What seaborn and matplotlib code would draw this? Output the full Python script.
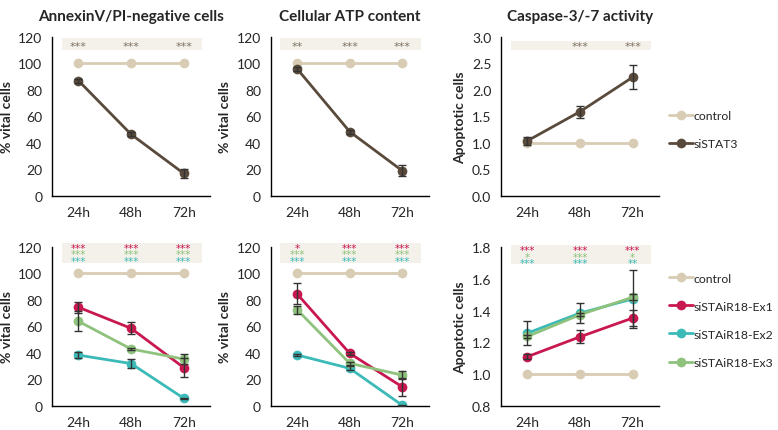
import numpy as np
import pandas as pd
import matplotlib
matplotlib.use("Agg")
import matplotlib.pyplot as plt
from matplotlib.lines import Line2D
import seaborn as sns

# --- data ---
times = ["24h", "48h", "72h"]

# top row: control vs siSTAT3
ann_ctrl = [100, 100, 100]
ann_stat3 = [87, 46.5, 17]
ann_stat3_err = [1.5, 1.5, 3.5]
atp_ctrl = [100, 100, 100]
atp_stat3 = [96, 48.5, 19]
atp_stat3_err = [1.5, 1.5, 4]
casp_ctrl = [1.0, 1.0, 1.0]
casp_stat3 = [1.04, 1.59, 2.24]
casp_stat3_err = [0.07, 0.11, 0.23]

# bottom row: control vs siSTAiR18 exons
ann2_ctrl = [100, 100, 100]
ann2_ex1 = [74.5, 58.6, 29]
ann2_ex1_err = [4, 4.5, 7]
ann2_ex2 = [38.4, 32, 5.8]
ann2_ex2_err = [2.5, 3.5, 0.5]
ann2_ex3 = [63.9, 43, 35.4]
ann2_ex3_err = [7.5, 1, 4]

atp2_ctrl = [100, 100, 100]
atp2_ex1 = [84.6, 39.7, 14.4]
atp2_ex1_err = [8, 1, 6.5]
atp2_ex2 = [38.5, 28.4, 0.5]
atp2_ex2_err = [1, 1.5, 0.5]
atp2_ex3 = [72.7, 32.2, 23.3]
atp2_ex3_err = [3, 1, 3]

casp2_ctrl = [1.0, 1.0, 1.0]
casp2_ex1 = [1.11, 1.235, 1.353]
casp2_ex1_err = [0.015, 0.04, 0.05]
casp2_ex2 = [1.258, 1.384, 1.473]
casp2_ex2_err = [0.075, 0.065, 0.18]
casp2_ex3 = [1.237, 1.374, 1.484]
casp2_ex3_err = [0.01, 0.01, 0.02]

# significance stars
stars_top = {
    "ann": ["***", "***", "***"],
    "atp": ["**", "***", "***"],
    "casp": ["", "***", "***"],
}
stars_ann2 = {"ex1": ["***", "***", "***"], "ex3": ["***", "***", "***"], "ex2": ["***", "***", "***"]}
stars_atp2 = {"ex1": ["*", "***", "***"], "ex3": ["***", "***", "***"], "ex2": ["***", "***", "***"]}
stars_casp2 = {"ex1": ["***", "***", "***"], "ex3": ["*", "***", "*"], "ex2": ["***", "***", "**"]}

C_CTRL = "#d8cdb4"
C_STAT3 = "#5a4a3c"
C_EX1 = "#c9184f"
C_EX2 = "#3bbab8"
C_EX3 = "#8fc27c"
C_STAR = "#7d7264"
C_BAND = "#f4f1ea"

sns.set_style("white")
plt.rcParams["font.family"] = ["Lato", "DejaVu Sans"]

fig = plt.figure(figsize=(7.78, 4.31), dpi=100)

W = 0.203
H = 0.369
lefts = [0.067, 0.348, 0.644]
top_bottom = 0.543
bot_bottom = 0.0557


def draw_panel(ax, series, ylim, yticks, yfmt, ylabel):
    rows = []
    for name, vals, err, color in series:
        for i, v in enumerate(vals):
            rows.append({"time": i, "value": v, "group": name})
    df = pd.DataFrame(rows)
    palette = {s[0]: s[3] for s in series}
    sns.lineplot(data=df, x="time", y="value", hue="group", palette=palette,
                 hue_order=[s[0] for s in series], marker="o", markersize=7,
                 markeredgewidth=0, linewidth=2, ax=ax, legend=False)
    for name, vals, err, color in series:
        if err is not None:
            ax.errorbar(range(3), vals, yerr=err, fmt="none", ecolor="#333333",
                        elinewidth=1, capsize=3, capthick=1, zorder=5)
    ax.set_xlim(-0.5, 2.5)
    ax.set_ylim(*ylim)
    ax.set_yticks(yticks)
    ax.set_yticklabels([yfmt.format(v) for v in yticks], fontsize=10)
    ax.set_xticks([-0.5, 0.5, 1.5, 2.5])
    ax.set_xticklabels([])
    ax.set_xticks([0, 1, 2], minor=True)
    ax.set_xticklabels(times, minor=True, fontsize=10)
    ax.tick_params(axis="x", which="minor", length=0, pad=7)
    ax.tick_params(axis="x", which="major", direction="out", length=4, width=1, color="black")
    ax.tick_params(axis="y", direction="out", length=4, width=1, color="black", pad=3)
    ax.set_xlabel("")
    ax.set_ylabel(ylabel, fontsize=10, fontweight="bold", labelpad=4)
    for side in ["top", "right"]:
        ax.spines[side].set_visible(False)
    for side in ["left", "bottom"]:
        ax.spines[side].set_color("black")
        ax.spines[side].set_linewidth(1)


def star_band(ax, y0, y1, x0=-0.32, x1=2.35):
    ax.fill_between([x0, x1], y0, y1, color=C_BAND, zorder=0, clip_on=False, linewidth=0)


# --- top row ---
ax1 = fig.add_axes([lefts[0], top_bottom, W, H])
draw_panel(ax1, [("control", ann_ctrl, None, C_CTRL), ("siSTAT3", ann_stat3, ann_stat3_err, C_STAT3)],
           (0, 120), [0, 20, 40, 60, 80, 100, 120], "{:.0f}", "% vital cells")
ax2 = fig.add_axes([lefts[1], top_bottom, W, H])
draw_panel(ax2, [("control", atp_ctrl, None, C_CTRL), ("siSTAT3", atp_stat3, atp_stat3_err, C_STAT3)],
           (0, 120), [0, 20, 40, 60, 80, 100, 120], "{:.0f}", "% vital cells")
ax3 = fig.add_axes([lefts[2], top_bottom, W, H])
draw_panel(ax3, [("control", casp_ctrl, None, C_CTRL), ("siSTAT3", casp_stat3, casp_stat3_err, C_STAT3)],
           (0, 3.0), [0, 0.5, 1.0, 1.5, 2.0, 2.5, 3.0], "{:.1f}", "Apoptotic cells")

for ax, key, (b0, b1, ys) in [(ax1, "ann", (110, 119, 113.5)), (ax2, "atp", (110, 119, 113.5)),
                              (ax3, "casp", (2.75, 2.92, 2.82))]:
    star_band(ax, b0, b1)
    for i, s in enumerate(stars_top[key]):
        ax.text(i, ys, s, ha="center", va="center", color=C_STAR, fontsize=8,
                family="DejaVu Sans")

titles = ["AnnexinV/PI-negative cells", "Cellular ATP content", "Caspase-3/-7 activity"]
for ax, t in zip([ax1, ax2, ax3], titles):
    ax.text(0.5, 1.09, t, transform=ax.transAxes, ha="center", va="bottom",
            fontsize=11, fontweight="bold")

# --- bottom row ---
ax4 = fig.add_axes([lefts[0], bot_bottom, W, H])
draw_panel(ax4, [("control", ann2_ctrl, None, C_CTRL), ("siSTAiR18-Ex1", ann2_ex1, ann2_ex1_err, C_EX1),
                 ("siSTAiR18-Ex2", ann2_ex2, ann2_ex2_err, C_EX2), ("siSTAiR18-Ex3", ann2_ex3, ann2_ex3_err, C_EX3)],
           (0, 120), [0, 20, 40, 60, 80, 100, 120], "{:.0f}", "% vital cells")
ax5 = fig.add_axes([lefts[1], bot_bottom, W, H])
draw_panel(ax5, [("control", atp2_ctrl, None, C_CTRL), ("siSTAiR18-Ex1", atp2_ex1, atp2_ex1_err, C_EX1),
                 ("siSTAiR18-Ex2", atp2_ex2, atp2_ex2_err, C_EX2), ("siSTAiR18-Ex3", atp2_ex3, atp2_ex3_err, C_EX3)],
           (0, 120), [0, 20, 40, 60, 80, 100, 120], "{:.0f}", "% vital cells")
ax6 = fig.add_axes([lefts[2], bot_bottom, W, H])
draw_panel(ax6, [("control", casp2_ctrl, None, C_CTRL), ("siSTAiR18-Ex1", casp2_ex1, casp2_ex1_err, C_EX1),
                 ("siSTAiR18-Ex2", casp2_ex2, casp2_ex2_err, C_EX2), ("siSTAiR18-Ex3", casp2_ex3, casp2_ex3_err, C_EX3)],
           (0.8, 1.8), [0.8, 1.0, 1.2, 1.4, 1.6, 1.8], "{:.1f}", "Apoptotic cells")

for ax, stars, (b0, b1, ys, dy) in [(ax4, stars_ann2, (108, 123, 119.5, 5.0)),
                                    (ax5, stars_atp2, (108, 123, 119.5, 5.0)),
                                    (ax6, stars_casp2, (1.69, 1.815, 1.78, 0.042))]:
    star_band(ax, b0, b1)
    for row, (k, col) in enumerate([("ex1", C_EX1), ("ex3", C_EX3), ("ex2", C_EX2)]):
        for i, s in enumerate(stars[k]):
            ax.text(i, ys - row * dy, s, ha="center", va="center", color=col,
                    fontsize=7.5, family="DejaVu Sans", clip_on=False)


# --- legends ---
def make_legend(ax, names, colors, anchor):
    handles = [Line2D([], [], color=c, marker="o", markersize=7, markeredgewidth=0, linewidth=2)
               for c in colors]
    ax.legend(handles, names, loc="upper left", bbox_to_anchor=anchor, frameon=False,
              fontsize=8.8, handlelength=1.9, handletextpad=0.1, labelspacing=1.4,
              borderaxespad=0)


make_legend(ax3, ["control", "siSTAT3"], [C_CTRL, C_STAT3], (1.035, 0.57))
make_legend(ax6, ["control", "siSTAiR18-Ex1", "siSTAiR18-Ex2", "siSTAiR18-Ex3"],
            [C_CTRL, C_EX1, C_EX2, C_EX3], (1.035, 0.87))

fig.savefig("out.png", dpi=100)
